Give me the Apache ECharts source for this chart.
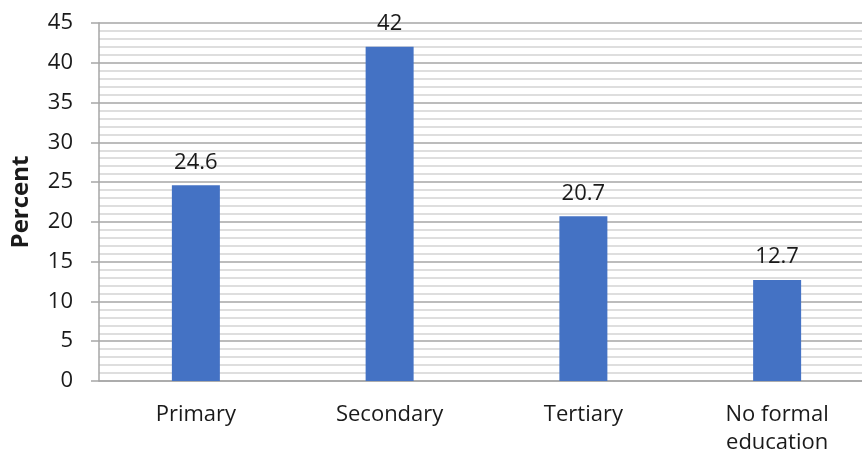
<!DOCTYPE html>
<html>
<head>
<meta charset="utf-8">
<script src="https://cdn.jsdelivr.net/npm/echarts@6/dist/echarts.min.js"></script>
<style>
  html, body { margin: 0; padding: 0; background: #fff; }
  #chart { width: 862px; height: 459px; }
</style>
</head>
<body>
<div id="chart"></div>
<script>
// chart data
const categories = ['Primary', 'Secondary', 'Tertiary', 'No formal\neducation']
const percentValues = [24.6, 42, 20.7, 12.7]
const yAxisName = 'Percent'

const chart = echarts.init(document.getElementById('chart'))
const fontFamily = '"Open Sans", "Noto Sans", sans-serif'

const option = {
  animation: false,
  grid: {
    left: 99,
    top: 23,
    width: 775,
    height: 358,
    outerBoundsMode: 'none'
  },
  xAxis: {
    type: 'category',
    data: categories,
    axisLine: { lineStyle: { color: '#a6a6a6', width: 1.5 } },
    axisTick: { show: false },
    axisLabel: {
      color: '#1a1a1a',
      fontFamily: fontFamily,
      fontSize: 22,
      margin: 20,
      lineHeight: 28,
      interval: 0
    }
  },
  yAxis: {
    type: 'value',
    min: 0,
    max: 45,
    interval: 5,
    name: yAxisName,
    nameLocation: 'middle',
    nameGap: 66,
    nameTextStyle: {
      fontFamily: fontFamily,
      fontSize: 24,
      fontWeight: 'bold',
      color: '#1a1a1a'
    },
    axisLine: { show: true, lineStyle: { color: '#a6a6a6', width: 1.5 } },
    axisTick: { show: true, length: 8, lineStyle: { color: '#a6a6a6', width: 1.5 } },
    axisLabel: {
      color: '#1a1a1a',
      fontFamily: fontFamily,
      fontSize: 22,
      margin: 26
    },
    splitLine: { show: true, lineStyle: { color: '#a6a6a6', width: 1.5 } },
    minorTick: { show: false, splitNumber: 5 },
    minorSplitLine: { show: true, lineStyle: { color: '#d4d4d4', width: 1.5 } }
  },
  series: [
    {
      type: 'bar',
      data: percentValues,
      barWidth: 48,
      itemStyle: { color: '#4472c4' },
      label: {
        show: true,
        position: 'top',
        distance: 12,
        color: '#1a1a1a',
        fontFamily: fontFamily,
        fontSize: 22
      }
    }
  ]
}

chart.setOption(option)
</script>
</body>
</html>
